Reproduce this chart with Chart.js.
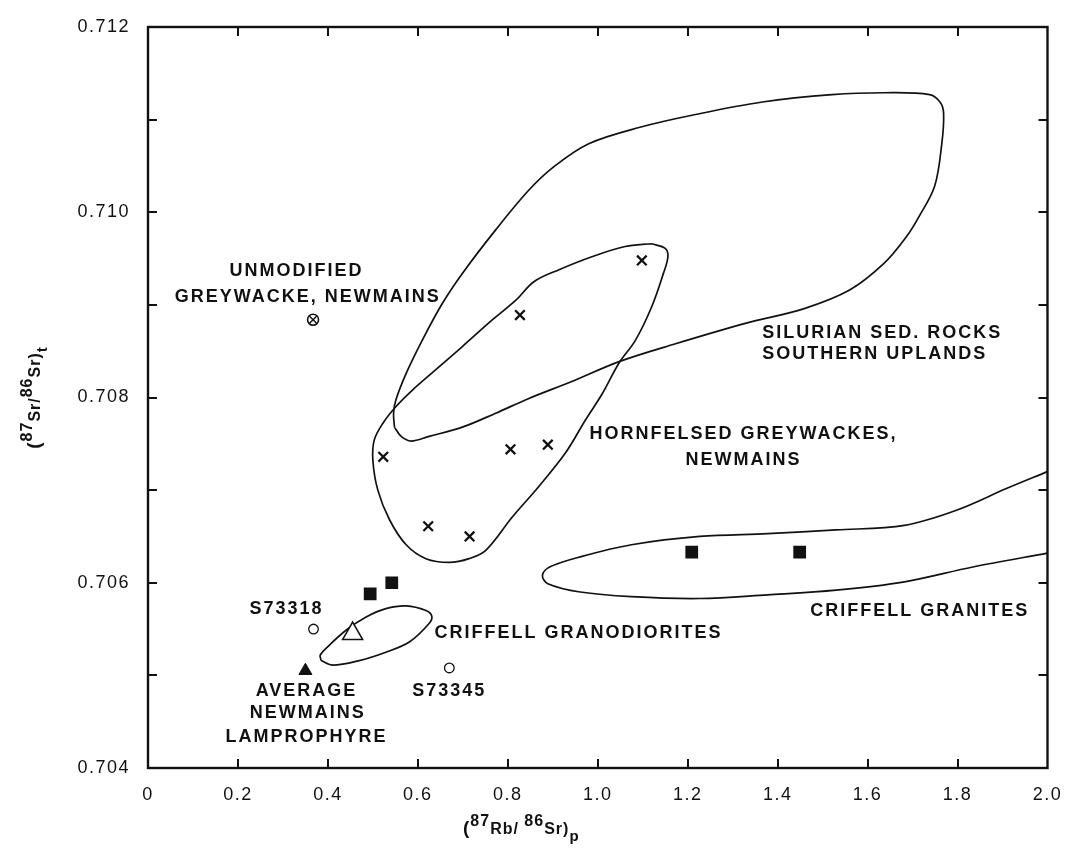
<!DOCTYPE html>
<html>
<head>
<meta charset="utf-8">
<script src="https://cdn.jsdelivr.net/npm/chart.js@4.4.1/dist/chart.umd.min.js"></script>
<style>
  html, body { margin: 0; padding: 0; background: #fff; }
  #wrap { width: 1068px; height: 856px; }
</style>
</head>
<body>
<div id="wrap"><canvas id="srChart" width="1068" height="856"></canvas></div>
<script>
// axis ticks
const xTickValues = [0, 0.2, 0.4, 0.6, 0.8, 1.0, 1.2, 1.4, 1.6, 1.8, 2.0];
const yTickLabels = ['0.704', '0.706', '0.708', '0.710', '0.712'];

// hornfelsed greywackes, Newmains (crosses)
const hornfelsX = [0.523, 0.827, 1.098, 0.806, 0.889, 0.623, 0.715];
const hornfelsY = [0.70736, 0.70889, 0.70948, 0.70744, 0.70749, 0.70661, 0.70650];

// unmodified greywacke, Newmains
const greywackeX = [0.367];
const greywackeY = [0.70884];

// Criffell samples (filled squares)
const granodioriteSqX = [0.494, 0.542];
const granodioriteSqY = [0.70588, 0.70600];
const graniteSqX = [1.209, 1.449];
const graniteSqY = [0.70633, 0.70633];

// S73318, S73345 (open circles)
const sampleX = [0.368, 0.670];
const sampleY = [0.70550, 0.70508];

// open triangle
const openTriX = [0.455];
const openTriY = [0.70545];

// average Newmains lamprophyre
const lamproX = [0.350];
const lamproY = [0.70505];

// field outlines
const hornfelsFieldX = [1.120, 1.150, 1.156, 1.146, 1.120, 1.084, 1.047, 1.010, 0.973, 0.928, 0.869, 0.810, 0.751, 0.714, 0.670, 0.618,
  0.574, 0.537, 0.511, 0.500, 0.503, 0.522, 0.551, 0.588, 0.640, 0.699, 0.766, 0.818, 0.858, 0.914, 0.987, 1.061, 1.120];
const hornfelsFieldY = [0.70966, 0.70961, 0.70952, 0.70934, 0.70898, 0.70862, 0.70837, 0.70804, 0.70776, 0.70740, 0.70704, 0.70671,
  0.70635, 0.70626, 0.70622, 0.70626, 0.70641, 0.70668, 0.70700, 0.70732, 0.70754, 0.70772, 0.70790, 0.70808, 0.70830, 0.70855,
  0.70884, 0.70905, 0.70925, 0.70938, 0.70952, 0.70963, 0.70966];

const silurianFieldX = [0.548, 0.546, 0.551, 0.574, 0.610, 0.655, 0.699, 0.773, 0.847, 0.902, 0.980, 1.096, 1.212, 1.366, 1.521,
  1.637, 1.738, 1.761, 1.769, 1.765, 1.749, 1.714, 1.687, 1.637, 1.560, 1.459, 1.328, 1.173, 1.049, 0.941, 0.847, 0.773, 0.699,
  0.625, 0.585, 0.563, 0.548];
const silurianFieldY = [0.70768, 0.70783, 0.70797, 0.70826, 0.70862, 0.70902, 0.70934, 0.70981, 0.71024, 0.71049, 0.71074,
  0.71092, 0.71105, 0.71119, 0.71127, 0.71129, 0.71127, 0.71119, 0.71107, 0.71074, 0.71028, 0.70995, 0.70974, 0.70945, 0.70916,
  0.70896, 0.70880, 0.70858, 0.70839, 0.70817, 0.70799, 0.70783, 0.70768, 0.70758, 0.70753, 0.70758, 0.70768];

const graniteFieldX = [2.000, 1.910, 1.796, 1.682, 1.530, 1.378, 1.227, 1.075, 0.961, 0.893, 0.877, 0.889, 0.961, 1.075, 1.227,
  1.378, 1.530, 1.682, 1.834, 2.000];
const graniteFieldY = [0.70720, 0.70702, 0.70678, 0.70662, 0.70657, 0.70653, 0.70650, 0.70641, 0.70628, 0.70617, 0.70608,
  0.70599, 0.70590, 0.70585, 0.70583, 0.70587, 0.70592, 0.70601, 0.70617, 0.70632];

const granoFieldX = [0.385, 0.411, 0.470, 0.529, 0.581, 0.625, 0.631, 0.618, 0.574, 0.529, 0.485, 0.441, 0.404, 0.383, 0.385];
const granoFieldY = [0.70516, 0.70511, 0.70516, 0.70525, 0.70536, 0.70556, 0.70564, 0.70570, 0.70575, 0.70572, 0.70563,
  0.70549, 0.70533, 0.70522, 0.70516];

// text on the plot, anchored in data units
const textLabels = [
  { text: 'UNMODIFIED', x: 0.330, y: 0.70936 },
  { text: 'GREYWACKE, NEWMAINS', x: 0.355, y: 0.70908 },
  { text: 'SILURIAN SED. ROCKS', x: 1.366, y: 0.70870, align: 'left' },
  { text: 'SOUTHERN UPLANDS', x: 1.366, y: 0.70847, align: 'left' },
  { text: 'HORNFELSED GREYWACKES,', x: 1.324, y: 0.70761 },
  { text: 'NEWMAINS', x: 1.324, y: 0.70732 },
  { text: 'CRIFFELL GRANITES', x: 1.716, y: 0.70570 },
  { text: 'CRIFFELL GRANODIORITES', x: 0.957, y: 0.70546 },
  { text: 'S73318', x: 0.308, y: 0.70572 },
  { text: 'S73345', x: 0.670, y: 0.70483 },
  { text: 'AVERAGE', x: 0.3525, y: 0.70483 },
  { text: 'NEWMAINS', x: 0.355, y: 0.70459 },
  { text: 'LAMPROPHYRE', x: 0.3525, y: 0.70433 }
];

const xTitle = [['(', 'n'], ['87', 'sup'], ['Rb/ ', 's'], ['86', 'sup'], ['Sr)', 's'], ['p', 'sub']];
const yTitle = [['(', 'n'], ['87', 'sup'], ['Sr/', 's'], ['86', 'sup'], ['Sr)', 's'], ['t', 'sub']];

const INK = '#111';
const FONT = '"Liberation Sans", Arial, sans-serif';

function pts(xs, ys) {
  return xs.map((x, i) => ({ x: x, y: ys[i] }));
}

function markers(xs, ys, style, radius, fill, width) {
  return {
    data: pts(xs, ys),
    pointStyle: style,
    pointRadius: radius,
    pointHoverRadius: radius,
    pointBackgroundColor: fill,
    pointBorderColor: INK,
    pointBorderWidth: width,
    showLine: false
  };
}

function outline(xs, ys) {
  return {
    data: pts(xs, ys),
    showLine: true,
    pointRadius: 0,
    borderColor: INK,
    borderWidth: 1.7,
    tension: 0.35,
    fill: false
  };
}

function drawRich(ctx, parts, cx, cy) {
  const fonts = { n: 'bold 19px ' + FONT, s: 'bold 16px ' + FONT, sup: 'bold 16px ' + FONT, sub: 'bold 15px ' + FONT };
  const shift = { n: 0, s: 0, sup: -8, sub: 7 };
  let total = 0;
  parts.forEach(p => { ctx.font = fonts[p[1]]; total += ctx.measureText(p[0]).width; });
  let x = cx - total / 2;
  ctx.textAlign = 'left';
  ctx.textBaseline = 'alphabetic';
  parts.forEach(p => {
    ctx.font = fonts[p[1]];
    ctx.fillText(p[0], x, cy + shift[p[1]]);
    x += ctx.measureText(p[0]).width;
  });
}

// frame with inward ticks on all four sides
const frameTicks = {
  id: 'frameTicks',
  beforeDraw(chart) {
    chart.ctx.letterSpacing = '1.5px';
  },
  beforeDatasetsDraw(chart) {
    const { ctx, chartArea: a, scales: { x, y } } = chart;
    ctx.save();
    ctx.strokeStyle = INK;
    ctx.lineWidth = 2.4;
    ctx.strokeRect(a.left, a.top, a.right - a.left, a.bottom - a.top);
    ctx.lineWidth = 2;
    ctx.beginPath();
    x.ticks.forEach(t => {
      if (t.value <= x.min || t.value >= x.max) return;
      const px = Math.round(x.getPixelForValue(t.value));
      ctx.moveTo(px, a.bottom); ctx.lineTo(px, a.bottom - 9);
      ctx.moveTo(px, a.top); ctx.lineTo(px, a.top + 9);
    });
    y.ticks.forEach(t => {
      if (t.value <= y.min + 1e-9 || t.value >= y.max - 1e-9) return;
      const py = Math.round(y.getPixelForValue(t.value));
      ctx.moveTo(a.left, py); ctx.lineTo(a.left + 9, py);
      ctx.moveTo(a.right, py); ctx.lineTo(a.right - 9, py);
    });
    ctx.stroke();
    ctx.restore();
  },
  afterDraw(chart) {
    const { ctx, chartArea: a, scales: { x, y } } = chart;
    ctx.save();
    ctx.fillStyle = INK;
    ctx.letterSpacing = '2px';
    ctx.font = 'bold 18px ' + FONT;
    ctx.textBaseline = 'middle';
    textLabels.forEach(l => {
      ctx.textAlign = l.align || 'center';
      ctx.fillText(l.text, x.getPixelForValue(l.x), y.getPixelForValue(l.y));
    });
    ctx.letterSpacing = '1px';
    drawRich(ctx, xTitle, x.getPixelForValue(0.83), 834);
    ctx.save();
    ctx.translate(34, (a.top + a.bottom) / 2);
    ctx.rotate(-Math.PI / 2);
    drawRich(ctx, yTitle, 0, 6);
    ctx.restore();
    ctx.restore();
  }
};

const ctx = document.getElementById('srChart').getContext('2d');

new Chart(ctx, {
  type: 'scatter',
  data: {
    datasets: [
      markers(hornfelsX, hornfelsY, 'crossRot', 6.8, INK, 2.3),
      markers(greywackeX, greywackeY, 'crossRot', 5, INK, 1.4),
      markers(greywackeX, greywackeY, 'circle', 5.5, 'rgba(0,0,0,0)', 1.6),
      markers(granodioriteSqX, granodioriteSqY, 'rect', 9, INK, 0),
      markers(graniteSqX, graniteSqY, 'rect', 9, INK, 0),
      markers(sampleX, sampleY, 'circle', 4.8, '#fff', 1.3),
      markers(openTriX, openTriY, 'triangle', 11.5, '#fff', 1.6),
      markers(lamproX, lamproY, 'triangle', 7.5, INK, 1),
      outline(hornfelsFieldX, hornfelsFieldY),
      outline(silurianFieldX, silurianFieldY),
      outline(graniteFieldX, graniteFieldY),
      outline(granoFieldX, granoFieldY)
    ]
  },
  options: {
    responsive: false,
    devicePixelRatio: 1,
    animation: false,
    events: [],
    layout: { padding: { left: 0, right: 18, top: 27, bottom: 0 } },
    plugins: {
      legend: { display: false },
      tooltip: { enabled: false }
    },
    scales: {
      x: {
        type: 'linear',
        min: 0,
        max: 2,
        afterBuildTicks: scale => { scale.ticks = xTickValues.map(v => ({ value: v })); },
        afterFit: scale => { scale.height = 88; },
        grid: { display: false },
        border: { display: false },
        ticks: {
          color: INK,
          font: { family: FONT, size: 18 },
          padding: 8,
          maxRotation: 0,
          autoSkip: false,
          callback: v => (v === 0 ? '0' : v.toFixed(1))
        }
      },
      y: {
        type: 'linear',
        min: 0.704,
        max: 0.712,
        afterBuildTicks: scale => {
          const t = [];
          for (let i = 0; i <= 8; i++) t.push({ value: 0.704 + i * 0.001 });
          scale.ticks = t;
        },
        afterFit: scale => { scale.width = 148; },
        grid: { display: false },
        border: { display: false },
        ticks: {
          color: INK,
          font: { family: FONT, size: 18 },
          padding: 10,
          autoSkip: false,
          callback: (v, i) => (i % 2 === 0 ? yTickLabels[i / 2] : '')
        }
      }
    }
  },
  plugins: [frameTicks]
});
</script>
</body>
</html>
